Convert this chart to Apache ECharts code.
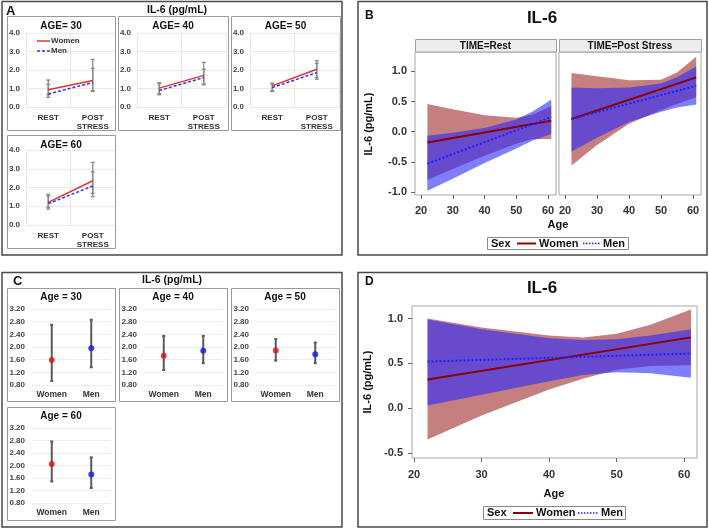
<!DOCTYPE html>
<html><head><meta charset="utf-8">
<script src="https://cdn.jsdelivr.net/npm/echarts@6/dist/echarts.min.js"></script>
<style>html,body{margin:0;padding:0;background:#fff}#c{width:709px;height:529px}</style>
</head><body><div id="c"></div><script>
// ---------- DATA ----------
// Panel A
var aPanels = ['AGE= 30', 'AGE= 40', 'AGE= 50', 'AGE= 60'];
var aTimes = ['REST', 'POST\nSTRESS'];
var aWomen   = [[0.93, 1.43], [1.02, 1.71], [1.14, 2.04], [1.21, 2.36]];
var aMen     = [[0.70, 1.32], [0.89, 1.59], [1.05, 1.86], [1.14, 2.08]];
var aWomenLo = [[0.52, 0.84], [0.66, 1.20], [0.84, 1.50], [0.85, 1.51]];
var aWomenHi = [[1.46, 2.57], [1.32, 2.41], [1.29, 2.50], [1.64, 3.34]];
var aMenLo   = [[0.66, 0.88], [0.72, 1.25], [0.88, 1.60], [0.95, 1.69]];
var aMenHi   = [[1.22, 2.09], [1.25, 2.05], [1.25, 2.36], [1.55, 2.84]];
// Panel C
var cPanels = ['Age = 30', 'Age = 40', 'Age = 50', 'Age = 60'];
var cSex = ['Women', 'Men'];
var cWomen   = [1.59, 1.72, 1.89, 2.05];
var cWomenLo = [0.93, 1.27, 1.57, 1.49];
var cWomenHi = [2.70, 2.35, 2.25, 2.77];
var cMen     = [1.96, 1.88, 1.77, 1.71];
var cMenLo   = [1.36, 1.49, 1.49, 1.28];
var cMenHi   = [2.86, 2.35, 2.14, 2.26];
// Panel B
var bFacets = ['TIME=Rest', 'TIME=Post Stress'];
var bXTicks = [20, 30, 40, 50, 60];
var bYTicks = [-1, -0.5, 0, 0.5, 1];
var lineAges = [22, 61];
var bAges = [22, 30, 40, 50, 55, 61];
var restWomenLine = [-0.18, 0.18];
var restMenLine   = [-0.53, 0.24];
var restWomenUp = [0.46, 0.37, 0.27, 0.23, 0.28, 0.42];
var restWomenLo = [-0.80, -0.62, -0.40, -0.20, -0.12, -0.12];
var restMenUp   = [-0.07, -0.02, 0.06, 0.20, 0.33, 0.53];
var restMenLo   = [-0.98, -0.78, -0.52, -0.28, -0.15, -0.04];
var postWomenLine = [0.21, 0.90];
var postMenLine   = [0.21, 0.76];
var postWomenUp = [0.97, 0.92, 0.85, 0.86, 0.98, 1.24];
var postWomenLo = [-0.56, -0.22, 0.13, 0.36, 0.46, 0.57];
var postMenUp   = [0.73, 0.72, 0.73, 0.80, 0.90, 1.08];
var postMenLo   = [-0.33, -0.10, 0.16, 0.33, 0.40, 0.45];
// Panel D
var dYTicks = [-0.5, 0, 0.5, 1];
var dAges = [22, 30, 40, 45, 50, 55, 61];
var dWomenLine = [0.32, 0.79];
var dMenLine   = [0.52, 0.61];
var dWomenUp = [1.00, 0.90, 0.81, 0.79, 0.83, 0.93, 1.10];
var dWomenLo = [-0.35, -0.08, 0.21, 0.33, 0.43, 0.47, 0.48];
var dMenUp   = [0.99, 0.88, 0.78, 0.76, 0.77, 0.81, 0.88];
var dMenLo   = [0.03, 0.15, 0.30, 0.37, 0.40, 0.39, 0.34];

// ---------- LAYOUT / STYLE ----------
var FONT = '"Liberation Sans", Arial, sans-serif';
var RED_BAND = 'rgba(140,0,0,0.50)', BLUE_BAND = 'rgba(40,40,255,0.6)';
var grids = [], xAxes = [], yAxes = [], series = [], gfx = [];

function addGrid(g, xa, ya) {
  grids.push(g);
  var gi = grids.length - 1;
  xa.gridIndex = gi; ya.gridIndex = gi;
  xAxes.push(xa); yAxes.push(ya);
  return gi;
}
function txt(x, y, s, size, o) {
  o = o || {};
  return {type: 'text', x: x, y: y, rotation: o.rot || 0, z: 100, silent: true,
    style: {text: s, font: (o.weight || 'bold') + ' ' + size + 'px ' + FONT, fill: o.color || '#111',
      textAlign: o.align || 'center', textVerticalAlign: 'middle', align: o.align || 'center', verticalAlign: 'middle'}};
}
function rect(x, y, w, h, stroke, lw, fill) {
  return {type: 'rect', z: 1, silent: true, shape: {x: x, y: y, width: w, height: h},
    style: {stroke: stroke, lineWidth: lw, fill: fill || 'none'}};
}
function seg(x1, y1, x2, y2, color, lw, dash) {
  return {type: 'line', z: 100, silent: true, shape: {x1: x1, y1: y1, x2: x2, y2: y2},
    style: {stroke: color, lineWidth: lw, lineDash: dash || null}};
}
function errSeries(gi, data, color, lw, cap) {
  return {type: 'custom', xAxisIndex: gi, yAxisIndex: gi, data: data, silent: true, z: 3,
    encode: {x: 0, y: [1, 2]},
    renderItem: function (params, api) {
      var lo = api.coord([api.value(0), api.value(1)]);
      var hi = api.coord([api.value(0), api.value(2)]);
      var st = {stroke: color, lineWidth: lw};
      return {type: 'group', children: [
        {type: 'line', shape: {x1: lo[0], y1: lo[1], x2: hi[0], y2: hi[1]}, style: st},
        {type: 'line', shape: {x1: lo[0] - cap, y1: lo[1], x2: lo[0] + cap, y2: lo[1]}, style: st},
        {type: 'line', shape: {x1: hi[0] - cap, y1: hi[1], x2: hi[0] + cap, y2: hi[1]}, style: st}
      ]};
    }};
}
function bandSeries(gi, ages, lo, hi, color, z) {
  return {type: 'custom', xAxisIndex: gi, yAxisIndex: gi, clip: true, silent: true, z: z,
    data: ages.map(function (a, i) { return [a, lo[i], hi[i]]; }),
    encode: {x: 0, y: [1, 2]},
    renderItem: function (params, api) {
      if (params.dataIndex !== 0) return null;
      var pts = [], i;
      for (i = 0; i < ages.length; i++) pts.push(api.coord([ages[i], hi[i]]));
      for (i = ages.length - 1; i >= 0; i--) pts.push(api.coord([ages[i], lo[i]]));
      return {type: 'polygon', shape: {points: pts}, style: {fill: color}};
    }};
}
function fitLine(gi, ages, vals, color, type, z) {
  return {type: 'line', xAxisIndex: gi, yAxisIndex: gi, silent: true, z: z || 5,
    data: ages.map(function (a, i) { return [a, vals[i]]; }),
    symbol: 'none', lineStyle: {color: color, width: 2, type: type}};
}

// ---------- PANEL A ----------
var aBoxes = [[7, 16, 108, 114], [118, 16, 110, 114], [231, 16, 109, 114], [7, 135, 108, 113]];
gfx.push(rect(2, 1.5, 340, 253.5, '#4a4a4a', 1.5));
gfx.push(txt(6, 11, 'A', 13, {align: 'left'}));
gfx.push(txt(177, 10, 'IL-6 (pg/mL)', 10.5));
aPanels.forEach(function (name, i) {
  var b = aBoxes[i];
  gfx.push(rect(b[0] + 0.5, b[1] + 0.5, b[2], b[3], '#9a9a9a', 1));
  gfx.push(txt(b[0] + b[2] / 2, b[1] + 10, name, 10));
  var gi = addGrid({left: b[0] + 19, top: i < 3 ? 33 : 150, width: 89, height: i < 3 ? 74 : 75},
    {type: 'category', data: aTimes, boundaryGap: true,
      axisLine: {show: false}, axisTick: {show: false},
      axisLabel: {interval: 0, fontSize: 8, fontWeight: 'bold', fontFamily: FONT, color: '#333', lineHeight: 9, margin: 6},
      splitLine: {show: true, lineStyle: {color: '#e8e8e8'}}},
    {type: 'value', min: 0, max: 4, interval: 1,
      axisLine: {show: false}, axisTick: {show: false},
      axisLabel: {fontSize: 8, fontWeight: 'bold', fontFamily: FONT, color: '#444', margin: 6,
        formatter: function (v) { return v.toFixed(1); }},
      splitLine: {lineStyle: {color: '#e8e8e8'}}});
  series.push(errSeries(gi, [[0, aWomenLo[i][0], aWomenHi[i][0]], [1, aWomenLo[i][1], aWomenHi[i][1]]], '#8a8a8a', 1.3, 2));
  series.push(errSeries(gi, [[0, aMenLo[i][0], aMenHi[i][0]], [1, aMenLo[i][1], aMenHi[i][1]]], '#8a8a8a', 1.3, 2));
  series.push({type: 'line', xAxisIndex: gi, yAxisIndex: gi, data: aWomen[i], symbol: 'none', silent: true, z: 5,
    lineStyle: {color: '#e03333', width: 1.5}});
  series.push({type: 'line', xAxisIndex: gi, yAxisIndex: gi, data: aMen[i], symbol: 'none', silent: true, z: 6,
    lineStyle: {color: '#3333ee', width: 1.5, type: [3, 2]}});
});
gfx.push(seg(37, 41, 50, 41, '#e03333', 1.5));
gfx.push(txt(51, 41, 'Women', 8, {align: 'left', color: '#333'}));
gfx.push(seg(37, 51, 50, 51, '#3333ee', 1.5, [3, 2]));
gfx.push(txt(51, 51, 'Men', 8, {align: 'left', color: '#333'}));

// ---------- PANEL C ----------
var cBoxes = [[7, 288, 108, 113], [119, 288, 108, 113], [231, 288, 108, 113], [7, 407, 108, 113]];
gfx.push(rect(2, 272.5, 340, 254.5, '#4a4a4a', 1.5));
gfx.push(txt(13, 281, 'C', 13, {align: 'left'}));
gfx.push(txt(172, 280, 'IL-6 (pg/mL)', 10.5));
cPanels.forEach(function (name, i) {
  var b = cBoxes[i];
  gfx.push(rect(b[0] + 0.5, b[1] + 0.5, b[2], b[3], '#9a9a9a', 1));
  gfx.push(txt(b[0] + b[2] / 2, b[1] + 9, name, 10));
  var gi = addGrid({left: b[0] + 25, top: i < 3 ? 309 : 428, width: 79, height: i < 3 ? 76 : 75},
    {type: 'category', data: cSex, boundaryGap: true,
      axisLine: {show: false}, axisTick: {show: false},
      axisLabel: {interval: 0, fontSize: 8.5, fontWeight: 'bold', fontFamily: FONT, color: '#333', margin: 5},
      splitLine: {show: false}},
    {type: 'value', min: 0.8, max: 3.2, interval: 0.4,
      axisLine: {show: false}, axisTick: {show: false},
      axisLabel: {fontSize: 8, fontWeight: 'bold', fontFamily: FONT, color: '#444', margin: 7,
        formatter: function (v) { return v.toFixed(2); }},
      splitLine: {lineStyle: {color: '#ececec'}}});
  series.push(errSeries(gi, [[0, cWomenLo[i], cWomenHi[i]]], '#5a5a5a', 2, 1.5));
  series.push(errSeries(gi, [[1, cMenLo[i], cMenHi[i]]], '#5a5a5a', 2, 1.5));
  series.push({type: 'scatter', xAxisIndex: gi, yAxisIndex: gi, data: [[0, cWomen[i]]], symbolSize: 6, silent: true, z: 6,
    itemStyle: {color: '#dd1111'}});
  series.push({type: 'scatter', xAxisIndex: gi, yAxisIndex: gi, data: [[1, cMen[i]]], symbolSize: 6, silent: true, z: 6,
    itemStyle: {color: '#1515ee'}});
});

// ---------- shared axis builders for B / D ----------
function valX(min, max, ticks, margin) {
  return {type: 'value', min: min, max: max,
    axisLine: {show: false, onZero: false},
    axisTick: {show: true, length: 4, customValues: ticks, lineStyle: {color: '#666'}},
    axisLabel: {customValues: ticks, fontSize: 11, fontWeight: 'bold', fontFamily: FONT, color: '#333', margin: margin},
    splitLine: {show: false}};
}
function valY(min, max, ticks, margin, showLabels) {
  return {type: 'value', min: min, max: max,
    axisLine: {show: false, onZero: false},
    axisTick: {show: showLabels, length: 4, customValues: ticks, lineStyle: {color: '#666'}},
    axisLabel: {show: showLabels, customValues: ticks, fontSize: 11, fontWeight: 'bold', fontFamily: FONT, color: '#333', margin: margin,
      formatter: function (v) { return v.toFixed(1); }},
    splitLine: {show: false}};
}

// ---------- PANEL B ----------
gfx.push(rect(358, 1.5, 349, 253.5, '#4a4a4a', 1.5));
gfx.push(txt(365, 16, 'B', 12, {align: 'left'}));
gfx.push(txt(542, 18, 'IL-6', 17));
var bG = [];
[[415, 141], [559, 142]].forEach(function (p, k) {
  bG.push(addGrid({left: p[0], top: 52, width: p[1], height: 143, show: true, borderColor: '#a8a8a8', borderWidth: 1},
    valX(18.1, 62.5, bXTicks, 10), valY(-1.05, 1.32, bYTicks, 8, k === 0)));
  gfx.push(rect(p[0] + 0.5, 39.5, p[1], 12.5, '#a0a0a0', 1, '#ededed'));
  gfx.push(txt(p[0] + p[1] / 2, 46, bFacets[k], 10));
});
series.push(bandSeries(bG[0], bAges, restWomenLo, restWomenUp, RED_BAND, 2));
series.push(bandSeries(bG[0], bAges, restMenLo, restMenUp, BLUE_BAND, 3));
series.push(fitLine(bG[0], lineAges, restWomenLine, '#8b0000', 'solid', 5));
series.push(fitLine(bG[0], lineAges, restMenLine, '#2020ff', 'dotted', 6));
series.push(bandSeries(bG[1], bAges, postWomenLo, postWomenUp, RED_BAND, 2));
series.push(bandSeries(bG[1], bAges, postMenLo, postMenUp, BLUE_BAND, 3));
series.push(fitLine(bG[1], lineAges, postWomenLine, '#8b0000', 'solid', 5));
series.push(fitLine(bG[1], lineAges, postMenLine, '#2020ff', 'dotted', 6));
gfx.push(txt(369, 124, 'IL-6 (pg/mL)', 11, {rot: Math.PI / 2}));
gfx.push(txt(558, 225, 'Age', 11));
gfx.push(rect(487.5, 237.5, 141, 12, '#8a8a8a', 1, '#fff'));
gfx.push(txt(491, 243.5, 'Sex', 11, {align: 'left'}));
gfx.push(seg(517, 243.5, 536, 243.5, '#8b0000', 2));
gfx.push(txt(539, 243.5, 'Women', 11, {align: 'left'}));
gfx.push(seg(583, 243.5, 601, 243.5, '#2020ff', 1.5, [1.5, 1.5]));
gfx.push(txt(603, 243.5, 'Men', 11, {align: 'left'}));

// ---------- PANEL D ----------
gfx.push(rect(358, 272.5, 349, 254.5, '#4a4a4a', 1.5));
gfx.push(txt(365, 282, 'D', 12, {align: 'left'}));
gfx.push(txt(542, 288, 'IL-6', 17));
var dG = addGrid({left: 412, top: 306, width: 285, height: 152, show: true, borderColor: '#a8a8a8', borderWidth: 1},
  valX(19.7, 61.9, bXTicks, 11), valY(-0.555, 1.14, dYTicks, 9, true));
series.push(bandSeries(dG, dAges, dWomenLo, dWomenUp, RED_BAND, 2));
series.push(bandSeries(dG, dAges, dMenLo, dMenUp, BLUE_BAND, 3));
series.push(fitLine(dG, lineAges, dWomenLine, '#8b0000', 'solid', 5));
series.push(fitLine(dG, lineAges, dMenLine, '#2020ff', 'dotted', 6));
gfx.push(txt(368, 382, 'IL-6 (pg/mL)', 11, {rot: Math.PI / 2}));
gfx.push(txt(554, 494, 'Age', 11));
gfx.push(rect(483.5, 506.5, 142, 13, '#8a8a8a', 1, '#fff'));
gfx.push(txt(487, 513, 'Sex', 11, {align: 'left'}));
gfx.push(seg(513, 513, 533, 513, '#8b0000', 2));
gfx.push(txt(536, 513, 'Women', 11, {align: 'left'}));
gfx.push(seg(578, 513, 598, 513, '#2020ff', 1.5, [1.5, 1.5]));
gfx.push(txt(601, 513, 'Men', 11, {align: 'left'}));

var chart = echarts.init(document.getElementById('c'), null, {renderer: 'canvas'});
chart.setOption({
  animation: false,
  backgroundColor: '#fff',
  grid: grids, xAxis: xAxes, yAxis: yAxes, series: series,
  graphic: {elements: gfx}
});
</script></body></html>
